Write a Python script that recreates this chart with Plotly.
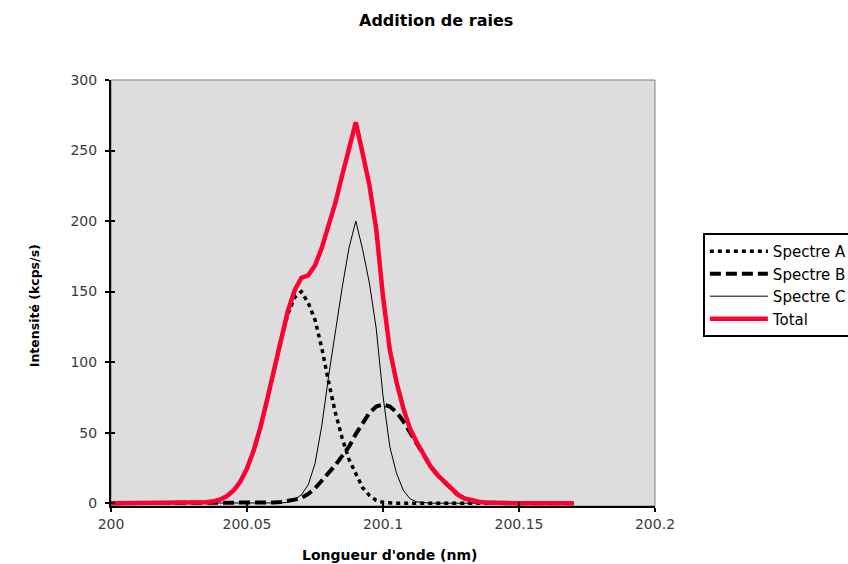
import plotly.graph_objects as go

# Wavelengths (nm), sampled every 0.0025 nm
wavelength = [200.0000, 200.0025, 200.0050, 200.0075, 200.0100, 200.0125, 200.0150, 200.0175,
              200.0200, 200.0225, 200.0250, 200.0275, 200.0300, 200.0325, 200.0350, 200.0375,
              200.0400, 200.0425, 200.0450, 200.0475, 200.0500, 200.0525, 200.0550, 200.0575,
              200.0600, 200.0625, 200.0650, 200.0675, 200.0700, 200.0725, 200.0750, 200.0775,
              200.0800, 200.0825, 200.0850, 200.0875, 200.0900, 200.0925, 200.0950, 200.0975,
              200.1000, 200.1025, 200.1050, 200.1075, 200.1100, 200.1125, 200.1150, 200.1175,
              200.1200, 200.1225, 200.1250, 200.1275, 200.1300, 200.1325, 200.1350, 200.1375,
              200.1400, 200.1425, 200.1450, 200.1475, 200.1500, 200.1525, 200.1550, 200.1575,
              200.1600, 200.1625, 200.1650, 200.1675, 200.1700]

spectre_a = [0, 0, 0, 0, 0, 0, 0, 0,
             0, 0, 0, 0, 0.1, 0.25, 0.6, 1.3,
             2.5, 4.9, 8.8, 15.1, 24.5, 37.4, 54.0, 73.8,
             95.3, 116.2, 133.9, 145.8, 150.0, 142.0, 130.0, 110.0,
             86.0, 64.0, 46.0, 31.0, 21.0, 11.0, 5.5, 2.0,
             0.6, 0.1, 0, 0, 0, 0, 0, 0,
             0, 0, 0, 0, 0, 0, 0, 0,
             0, 0, 0, 0, 0, 0, 0, 0,
             0, 0, 0, 0, 0]

spectre_b = [0, 0, 0, 0, 0, 0, 0, 0,
             0, 0, 0, 0, 0, 0, 0, 0,
             0, 0, 0, 0, 0.1, 0.2, 0.3, 0.4,
             0.5, 0.9, 1.6, 2.5, 3.8, 6.5, 10.5, 16.0,
             21.0, 27.0, 33.5, 40.0, 49.0, 57.0, 64.0, 68.5,
             70.0, 68.5, 64.5, 58.0, 49.5, 42.0, 34.0, 26.0,
             20.0, 15.0, 10.0, 6.0, 3.3, 1.8, 1.0, 0.5,
             0.2, 0.1, 0, 0, 0, 0, 0, 0,
             0, 0, 0, 0, 0]

spectre_c = [0, 0, 0, 0, 0, 0, 0, 0,
             0, 0, 0, 0, 0, 0, 0, 0,
             0, 0, 0, 0, 0, 0, 0, 0,
             0.1, 0.2, 0.6, 2.5, 6.0, 13.0, 28.0, 55.0,
             90.0, 122.0, 153.0, 181.0, 200.0, 180.0, 156.0, 124.0,
             76.0, 40.0, 21.0, 9.0, 3.0, 0.9, 0.2, 0,
             0, 0, 0, 0, 0, 0, 0, 0,
             0, 0, 0, 0, 0, 0, 0, 0,
             0, 0, 0, 0, 0]

total = [0, 0, 0, 0, 0, 0, 0, 0,
         0, 0, 0, 0, 0.1, 0.25, 0.6, 1.3,
         2.5, 4.9, 8.8, 15.1, 24.6, 37.6, 54.3, 74.2,
         95.9, 117.3, 136.1, 150.8, 159.8, 161.5, 168.5, 181.0,
         197.0, 213.0, 232.5, 252.0, 270.0, 248.0, 225.5, 194.5,
         146.6, 108.6, 85.5, 67.0, 52.5, 42.9, 34.2, 26.0,
         20.0, 15.0, 10.0, 6.0, 3.3, 1.8, 1.0, 0.5,
         0.2, 0.1, 0, 0, 0, 0, 0, 0,
         0, 0, 0, 0, 0]

x_tickvals = [200, 200.05, 200.1, 200.15, 200.2]
x_ticktext = ["200", "200.05", "200.1", "200.15", "200.2"]
y_tickvals = [0, 50, 100, 150, 200, 250, 300]
y_ticktext = ["0", "50", "100", "150", "200", "250", "300"]

FONT = "DejaVu Sans, Verdana, sans-serif"

fig = go.Figure()
fig.add_trace(go.Scatter(x=wavelength, y=spectre_a, name="Spectre A", mode="lines",
                         legendgroup="a",
                         line=dict(color="black", width=3.5, dash="4px,4px")))
fig.add_trace(go.Scatter(x=wavelength, y=spectre_b, name="Spectre B", mode="lines",
                         legendgroup="b",
                         line=dict(color="black", width=4, dash="11px,5px")))
fig.add_trace(go.Scatter(x=wavelength, y=spectre_c, name="Spectre C", mode="lines",
                         legendgroup="c",
                         line=dict(color="black", width=1)))
fig.add_trace(go.Scatter(x=wavelength, y=total, name="Total", mode="lines",
                         legendgroup="t",
                         line=dict(color="#FF0033", width=4.5)))
# helper trace for the inner tick marks axis
fig.add_trace(go.Scatter(x=[None], y=[None], xaxis="x2", yaxis="y2",
                         showlegend=False, hoverinfo="skip"))

xr = [200, 200.2]
yr = [-2, 300]

fig.update_layout(
    width=848, height=564,
    margin=dict(l=111, r=193, t=80, b=58, autoexpand=False),
    paper_bgcolor="white",
    plot_bgcolor="#DDDDDD",
    font=dict(family=FONT, size=13, color="#333333"),
    showlegend=True,
    legend=dict(x=1.088, y=0.641, xanchor="left", yanchor="top",
                bgcolor="white", bordercolor="black", borderwidth=2,
                font=dict(family=FONT, size=15, color="black"),
                tracegroupgap=0, itemwidth=58),
    xaxis=dict(range=xr, tickvals=x_tickvals, ticktext=x_ticktext,
               showgrid=False, zeroline=False, showline=True,
               linecolor="black", linewidth=2, ticks="outside",
               ticklen=4, tickwidth=2, tickcolor="black",
               tickfont=dict(family=FONT, size=14, color="#3a3a3a")),
    yaxis=dict(range=yr, tickvals=y_tickvals, ticktext=y_ticktext,
               showgrid=False, zeroline=False, showline=True,
               linecolor="black", linewidth=2, ticks="outside",
               ticklen=4, tickwidth=2, tickcolor="black",
               ticklabelstandoff=5,
               tickfont=dict(family=FONT, size=14, color="#3a3a3a")),
    xaxis2=dict(range=xr, tickvals=x_tickvals, overlaying="x", anchor="y2",
                showticklabels=False, showgrid=False, zeroline=False,
                showline=False, ticks="inside", ticklen=4, tickwidth=2,
                tickcolor="black"),
    yaxis2=dict(range=yr, tickvals=y_tickvals, overlaying="y", anchor="x2",
                showticklabels=False, showgrid=False, zeroline=False,
                showline=False, ticks="inside", ticklen=4, tickwidth=2,
                tickcolor="black"),
    shapes=[dict(type="rect", xref="paper", yref="paper", x0=0, x1=1, y0=0, y1=1,
                 line=dict(color="#808080", width=1), layer="below")],
    annotations=[
        dict(text="<b>Addition de raies</b>", xref="paper", yref="paper",
             x=0.597, y=1.140, xanchor="center", yanchor="middle", showarrow=False,
             font=dict(family=FONT, size=16, color="black")),
        dict(text="<b>Longueur d'onde (nm)</b>", xref="paper", yref="paper",
             x=0.512, y=-0.116, xanchor="center", yanchor="middle", showarrow=False,
             font=dict(family=FONT, size=14, color="black")),
        dict(text="<b>Intensité (kcps/s)</b>", xref="paper", yref="paper",
             x=-0.14, y=0.471, xanchor="center", yanchor="middle", showarrow=False,
             textangle=-90, font=dict(family=FONT, size=12.5, color="black")),
    ],
)

fig.write_html("out.html")
